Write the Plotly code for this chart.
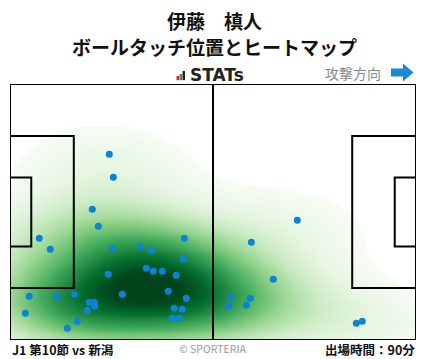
import numpy as np
import plotly.graph_objects as go

# ---- data (pitch metres: x 0..105 attacking right, y 0..68 bottom->top) ----
touch_x = [25.68, 26.72, 21.28, 22.84, 7.58, 10.42, 26.46, 33.70, 36.54, 45.08,
           44.82, 35.25, 37.06, 39.39, 43.01, 25.42, 40.94, 45.60, 4.99, 12.23,
           16.63, 29.04, 20.51, 21.80, 21.91, 19.99, 42.49, 44.56, 3.96, 17.41,
           41.97, 43.78, 14.82, 74.30, 62.41, 68.10, 56.97, 62.15, 56.46, 61.11,
           89.56, 91.11]
touch_y = [49.33, 43.22, 34.72, 30.20, 27.01, 24.09, 24.36, 24.70, 23.83, 27.01,
           21.44, 19.05, 18.25, 18.25, 17.19, 17.45, 12.94, 11.08, 11.61, 11.34,
           12.14, 12.14, 10.01, 10.01, 8.95, 7.89, 8.42, 8.15, 7.09, 4.97,
           5.76, 5.76, 3.11, 31.80, 25.95, 16.12, 11.34, 11.08, 8.95, 9.22,
           4.44, 4.97]

title_lines = ["伊藤　槙人", "ボールタッチ位置とヒートマップ"]
match_label = "J1 第10節 vs 新潟"
minutes_label = "出場時間：90分"
credit_label = "© SPORTERIA"
direction_label = "攻撃方向"

PITCH_L, PITCH_W = 105.0, 68.0

# ---- gaussian KDE (Scott bandwidth, widened, full covariance) ----
pts = np.vstack([touch_x, touch_y])
n = pts.shape[1]
factor = n ** (-1.0 / 6.0) * 1.35
cov = np.cov(pts) * factor ** 2
inv = np.linalg.inv(cov)
gx = np.linspace(0, PITCH_L, 211)
gy = np.linspace(0, PITCH_W, 137)
GX, GY = np.meshgrid(gx, gy)
dens = np.zeros_like(GX)
for px, py in zip(touch_x, touch_y):
    dx = GX - px
    dy = GY - py
    q = inv[0, 0] * dx * dx + 2 * inv[0, 1] * dx * dy + inv[1, 1] * dy * dy
    dens += np.exp(-0.5 * q)
dens = dens / dens.max()
THR = 0.05
z = np.where(dens < THR, np.nan, dens)

greens = [[0.0, "#f7fcf5"], [0.125, "#e5f5e0"], [0.25, "#c7e9c0"], [0.375, "#a1d99b"],
          [0.5, "#74c476"], [0.625, "#41ab5d"], [0.75, "#238b45"], [0.875, "#006d2c"],
          [1.0, "#00441b"]]

fig = go.Figure()
fig.add_trace(go.Heatmap(x=gx, y=gy, z=z, colorscale=greens, zmin=THR, zmax=0.95,
                         zsmooth="best", showscale=False, hoverinfo="skip"))
fig.add_trace(go.Scatter(x=touch_x, y=touch_y, mode="markers",
                         marker=dict(size=7, color="#0a84d6"), hoverinfo="skip"))

line = dict(color="black", width=2)
shapes = [
    dict(type="rect", x0=0, x1=PITCH_L, y0=0, y1=PITCH_W, line=line),
    dict(type="line", x0=PITCH_L / 2, x1=PITCH_L / 2, y0=0, y1=PITCH_W, line=line),
    dict(type="rect", x0=0, x1=16.5, y0=34 - 20.16, y1=34 + 20.16, line=line),
    dict(type="rect", x0=0, x1=5.5, y0=34 - 9.16, y1=34 + 9.16, line=line),
    dict(type="rect", x0=PITCH_L - 16.5, x1=PITCH_L, y0=34 - 20.16, y1=34 + 20.16, line=line),
    dict(type="rect", x0=PITCH_L - 5.5, x1=PITCH_L, y0=34 - 9.16, y1=34 + 9.16, line=line),
]

# helpers: pixel -> paper
L, T, W, H = 10, 84, 406, 256
def pxx(p):
    return (p - L) / W
def pxy(p):
    return (T + H - p) / H

# STATs icon bars
for (x0, x1, y0, col) in [(176.5, 179.0, 76.0, "#e8202a"), (179.5, 182.0, 74.0, "#1aa34a"),
                          (182.5, 185.0, 71.0, "#222222")]:
    shapes.append(dict(type="rect", xref="paper", yref="paper", x0=pxx(x0), x1=pxx(x1),
                       y0=pxy(80.2), y1=pxy(y0), fillcolor=col, line=dict(width=0)))

# direction arrow
ap = [(391, 68.5), (403, 68.5), (403, 63.5), (413.5, 72.5), (403, 81.5), (403, 76.5), (391, 76.5)]
path = "M " + " L ".join(f"{pxx(a):.5f},{pxy(b):.5f}" for a, b in ap) + " Z"
shapes.append(dict(type="path", xref="paper", yref="paper", path=path,
                   fillcolor="#1a8ad4", line=dict(width=0)))

jp = "Noto Sans CJK JP"
annotations = [
    dict(text=f"<b>{title_lines[0]}</b>", x=pxx(214), y=pxy(20.5), font=dict(family=jp, size=19, color="#111")),
    dict(text=f"<b>{title_lines[1]}</b>", x=pxx(214), y=pxy(46.5), font=dict(family=jp, size=19, color="#111")),
    dict(text="<b>STATs</b>", x=pxx(187.5), y=pxy(74.5), xanchor="left",
         font=dict(family="DejaVu Sans", size=17, color="#222")),
    dict(text=direction_label, x=pxx(383), y=pxy(72.5), xanchor="right",
         font=dict(family=jp, size=14, color="#888888")),
    dict(text=f"<b>{match_label}</b>", x=pxx(10), y=pxy(349), xanchor="left",
         font=dict(family=jp, size=12.5, color="#111")),
    dict(text=credit_label, x=pxx(213), y=pxy(348), font=dict(family=jp, size=10.5, color="#999999")),
    dict(text=f"<b>{minutes_label}</b>", x=pxx(417), y=pxy(349), xanchor="right",
         font=dict(family=jp, size=12.5, color="#111")),
]
for a in annotations:
    a.update(xref="paper", yref="paper", showarrow=False, yanchor="middle")
    a.setdefault("xanchor", "center")

fig.update_layout(
    width=428, height=359,
    margin=dict(l=L, r=428 - L - W, t=T, b=359 - T - H, pad=0),
    paper_bgcolor="white", plot_bgcolor="white",
    xaxis=dict(range=[0, PITCH_L], visible=False, fixedrange=True),
    yaxis=dict(range=[0, PITCH_W], visible=False, fixedrange=True),
    shapes=shapes, annotations=annotations, showlegend=False,
)
fig.write_html("out.html", config={"displayModeBar": False},
               post_script="document.body.style.margin='0px';document.body.style.overflow='hidden';")
